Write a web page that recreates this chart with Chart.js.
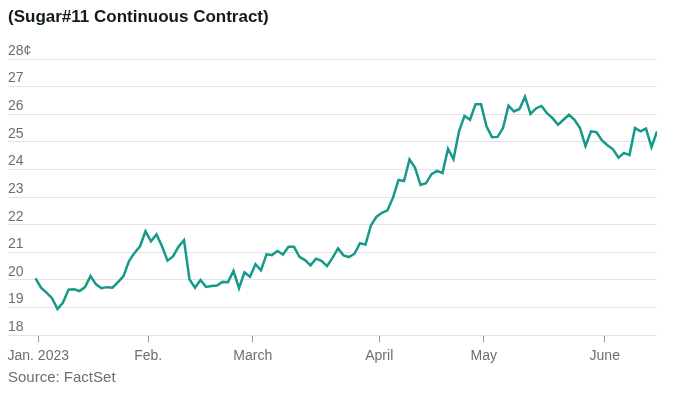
<!DOCTYPE html>
<html>
<head>
<meta charset="utf-8">
<title>Sugar#11 Continuous Contract</title>
<script src="https://cdn.jsdelivr.net/npm/chart.js@4/dist/chart.umd.min.js"></script>
<style>
  html, body { margin: 0; padding: 0; background: #fff; }
  #wrap { width: 674px; height: 409px; position: relative; }
</style>
</head>
<body>
<div id="wrap"><canvas id="sugarChart"></canvas></div>
<script>
// trading days, Dec 30 2022 .. June 14 2023
const tradingDays = [
  "12/30",
  "1/3","1/4","1/5","1/6","1/9","1/10","1/11","1/12","1/13","1/17",
  "1/18","1/19","1/20","1/23","1/24","1/25","1/26","1/27","1/30","1/31",
  "2/1","2/2","2/3","2/6","2/7","2/8","2/9","2/10","2/13","2/14",
  "2/15","2/16","2/17","2/21","2/22","2/23","2/24","2/27","2/28",
  "3/1","3/2","3/3","3/6","3/7","3/8","3/9","3/10","3/13","3/14",
  "3/15","3/16","3/17","3/20","3/21","3/22","3/23","3/24","3/27","3/28",
  "3/29","3/30","3/31",
  "4/3","4/4","4/5","4/6","4/10","4/11","4/12","4/13","4/14","4/17",
  "4/18","4/19","4/20","4/21","4/24","4/25","4/26","4/27","4/28",
  "5/1","5/2","5/3","5/4","5/5","5/8","5/9","5/10","5/11","5/12",
  "5/15","5/16","5/17","5/18","5/19","5/22","5/23","5/24","5/25","5/26",
  "5/30","5/31",
  "6/1","6/2","6/5","6/6","6/7","6/8","6/9","6/12","6/13","6/14"
];

// cents per pound
const prices = [
  20.06,
  19.72, 19.54, 19.34, 18.95, 19.18, 19.65, 19.66, 19.60, 19.74, 20.14,
  19.84, 19.70, 19.74, 19.72, 19.92, 20.14, 20.68, 20.98, 21.22, 21.76,
  21.40, 21.65, 21.22, 20.70, 20.85, 21.20, 21.44, 20.02, 19.72, 20.00,
  19.75, 19.78, 19.80, 19.93, 19.92, 20.33, 19.70, 20.28, 20.12,
  20.57, 20.35, 20.93, 20.90, 21.05, 20.92, 21.20, 21.20, 20.84, 20.72,
  20.53, 20.77, 20.69, 20.50, 20.80, 21.14, 20.89, 20.83, 20.95, 21.33,
  21.28, 21.98, 22.29,
  22.43, 22.52, 22.98, 23.62, 23.58, 24.36, 24.07, 23.44, 23.50, 23.83,
  23.95, 23.87, 24.75, 24.37, 25.38, 25.94, 25.80, 26.36, 26.36,
  25.56, 25.17, 25.18, 25.50, 26.31, 26.10, 26.19, 26.63, 26.01, 26.21,
  26.30, 26.04, 25.86, 25.62, 25.80, 25.98, 25.80, 25.50, 24.85, 25.38,
  25.35, 25.05,
  24.88, 24.73, 24.43, 24.60, 24.52, 25.50, 25.38, 25.48, 24.81, 25.38
];

const monthLabels = ["Jan. 2023", "Feb.", "March", "April", "May", "June"];
const yMin = 18;
const yMax = 28;

// index of the first trading day of each month
const monthStarts = [];
tradingDays.forEach((d, i) => {
  const m = d.split("/")[0];
  if (i > 0 && m !== tradingDays[i - 1].split("/")[0]) monthStarts.push(i);
});

const FONT = "Helvetica, Arial, 'Liberation Sans', sans-serif";
const GREY = "#6e6e6e";

new Chart(document.getElementById("sugarChart"), {
  type: "line",
  data: {
    datasets: [{
      data: prices.map((v, i) => ({ x: i, y: v })),
      borderColor: "#15998a",
      borderWidth: 2.5,
      pointRadius: 0,
      tension: 0,
      fill: false
    }]
  },
  options: {
    responsive: true,
    maintainAspectRatio: false,
    animation: false,
    layout: { padding: { left: 8, right: 17, top: 0, bottom: 0 } },
    plugins: {
      legend: { display: false },
      tooltip: { enabled: false },
      title: {
        display: true,
        text: "(Sugar#11 Continuous Contract)",
        align: "start",
        color: "#121b1b",
        font: { family: FONT, size: 17, weight: "bold" },
        padding: { top: 7, bottom: 31.6 }
      },
      subtitle: {
        display: true,
        position: "bottom",
        text: "Source: FactSet",
        align: "start",
        color: GREY,
        font: { family: FONT, size: 15, lineHeight: 1 },
        padding: { top: 0, bottom: 24 }
      }
    },
    scales: {
      x: {
        type: "linear",
        min: -5,
        max: tradingDays.length - 1,
        afterBuildTicks: (scale) => {
          // month boundary falls between the last and first trading day
          scale.ticks = monthStarts.map(i => ({ value: i - 0.5 }));
        },
        border: { display: false },
        grid: {
          drawOnChartArea: false,
          drawTicks: true,
          tickLength: 7,
          color: "#9a9a9a"
        },
        ticks: {
          autoSkip: false,
          maxRotation: 0,
          padding: 5.5,
          color: GREY,
          font: { family: FONT, size: 14 },
          callback: (value, index) => monthLabels[index]
        }
      },
      y: {
        min: yMin,
        max: yMax,
        border: { display: false },
        grid: { color: "#e3e3e3", drawTicks: false, lineWidth: 1 },
        ticks: {
          stepSize: 1,
          mirror: true,
          padding: 0,
          labelOffset: -8,
          color: GREY,
          font: { family: FONT, size: 14 },
          callback: (v) => v === yMax ? v + "\u00a2" : v
        }
      }
    }
  }
});
</script>
</body>
</html>
